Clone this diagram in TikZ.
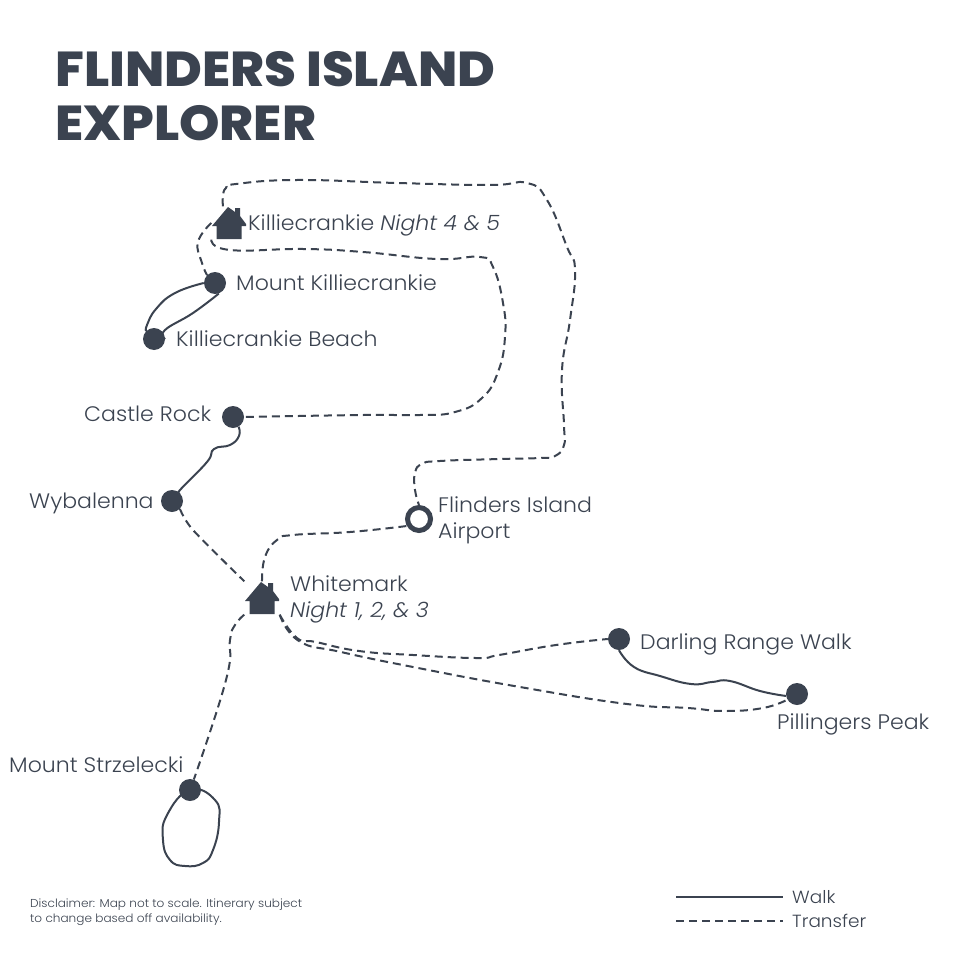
\documentclass[tikz,border=0pt]{standalone}
\usepackage{fontspec}
\setmainfont{Poppins}[UprightFont=* Light, ItalicFont=* Light Italic, BoldFont=* ExtraBold, FakeStretch=1.05]
\usetikzlibrary{positioning}

\definecolor{ink}{HTML}{3B4350}

\tikzset{
    stopdot/.style={circle, fill=ink, minimum size=22pt, inner sep=0pt},
    airportring/.style={circle, draw=ink, line width=5pt, fill=white, minimum size=23pt, inner sep=0pt},
    housemark/.style={minimum width=35pt, minimum height=33pt, inner sep=0pt, path picture={
        \fill[ink, shift={(path picture bounding box.center)}] (-12.5,16) -- (-12.5,3) -- (-17,3) -- (-1,-16) -- (6,-11) -- (6,-15)
            -- (11,-15) -- (11,-7) -- (17,1) -- (17,3) -- (12.5,3) -- (12.5,16) -- cycle;
    }},
    place/.style={text=ink, anchor=base west, inner sep=0pt, font=\fontsize{21}{26}\selectfont, align=left},
    walk/.style={draw=ink, line width=2pt},
    transfer/.style={draw=ink, line width=2pt, dash pattern=on 8pt off 5pt},
}

\begin{document}
\begin{tikzpicture}[x=1pt, y=-1pt]

    \useasboundingbox (0,0) rectangle (960,960);

    \node[text=ink, anchor=base west, inner sep=0pt, font=\fontsize{49}{54}\bfseries\selectfont, align=left] (title) at (55,141) {FLINDERS ISLAND\\EXPLORER};

    \node[housemark] (killie) at (229,223) {};
    \node[housemark] (whitemark) at (262,598) {};
    \node[stopdot] (mount) at (215,283) {};
    \node[stopdot] (beach) at (154,339) {};
    \node[stopdot] (castle) at (233,417) {};
    \node[stopdot] (wybalenna) at (172,501) {};
    \node[airportring] (airport) at (419,519) {};
    \node[stopdot] (darling) at (619,639) {};
    \node[stopdot] (peak) at (797,694) {};
    \node[stopdot] (strzelecki) at (190,790) {};

    \node[place] (killielabel) at (248,230) {Killiecrankie \textit{Night 4 \& 5}};
    \node[place] (mountlabel) at (236,290) {Mount Killiecrankie};
    \node[place] (beachlabel) at (176,346) {Killiecrankie Beach};
    \node[place] (castlelabel) at (84,421) {Castle Rock};
    \node[place] (wybalennalabel) at (29,508) {Wybalenna};
    \node[place] (airportlabel) at (438,538) {Flinders Island\\Airport};
    \node[place] (whitemarklabel) at (290,617.5) {Whitemark\\\textit{Night 1, 2, \& 3}};
    \node[place] (darlinglabel) at (640,649.5) {Darling Range Walk};
    \node[place] (peaklabel) at (777,729.5) {Pillingers Peak};
    \node[place] (strzeleckilabel) at (9,772) {Mount Strzelecki};

    \draw[transfer] plot[smooth, tension=0.8] coordinates {(killie.110) (223,196) (226,188) (236,184) (297,180) (397,183) (490,185) (527,183) (547,200) (567,247) (575,270) (570,320) (562,370) (564,425) (564,445) (555,456) (540,458) (500,459) (440,461) (422,464) (415,473) (415,490) (airport.north)};
    \draw[transfer] plot[smooth, tension=0.8] coordinates {(killie.south west) (230,250) (303,249) (363,252) (437,259) (480,257) (493,267) (503,303) (505,337) (498,372) (482,398) (455,412) (420,415) (363,415) (castle.east)};
    \draw[transfer] plot[smooth, tension=0.8] coordinates {(killie.west) (198,242) (202,263) (mount.north west)};
    \draw[transfer] plot[smooth, tension=0.5] coordinates {(wybalenna.south east) (193,530) (whitemark.north west)};
    \draw[transfer] plot[smooth, tension=0.8] coordinates {(whitemark.north) (265,557) (277,540) (293,535) (350,532) (airport.210)};
    \draw[transfer] plot[smooth, tension=0.8] coordinates {(whitemark.south west) (235,625) (230,640) (226,680) (strzelecki.70)};
    \draw[transfer] plot[smooth, tension=0.8] coordinates {(whitemark.south east) (297,638) (316,642) (359,651) (413,655) (477,658) (499,655) (556,645) (darling.west)};
    \draw[transfer] plot[smooth, tension=0.8] coordinates {(whitemark.south east) (299,641) (341,652) (413,667) (520,687) (627,704) (688,708) (724,711) (763,708) (peak.210)};

    \draw[walk] plot[smooth, tension=0.8] coordinates {(mount.west) (175,293) (156,309) (147,325) (beach.135)};
    \draw[walk] plot[smooth, tension=0.8] coordinates {(mount.290) (193,313) (165,330) (beach.east)};
    \draw[walk] plot[smooth, tension=0.8] coordinates {(castle.300) (239,436) (230,445) (214,449) (207,462) (180,490) (wybalenna.north east)};
    \draw[walk] plot[smooth, tension=0.8] coordinates {(darling.south) (634,667) (660,676) (691,684) (712,682) (730,681) (760,691) (peak.190)};
    \draw[walk] plot[smooth cycle, tension=0.8] coordinates {(strzelecki.center) (215,800) (219,822) (213,850) (203,863) (185,866) (170,860) (163,840) (167,815)};

    \node[text=ink, anchor=base west, inner sep=0pt, font=\fontsize{11.5}{15}\selectfont, align=left] (disclaimer) at (30,922) {Disclaimer: Map not to scale. Itinerary subject\\to change based off availability.};

    \node[place, font=\fontsize{17.6}{24}\selectfont] (walkkey) at (792,903) {Walk};
    \node[place, font=\fontsize{17.6}{24}\selectfont] (transferkey) at (792,927) {Transfer};
    \coordinate (walkstart) at (676,897);
    \coordinate (walkend) at (783,897);
    \coordinate (transferstart) at (676,921);
    \coordinate (transferend) at (783,921);
    \draw[walk] (walkstart) -- (walkend);
    \draw[transfer] (transferstart) -- (transferend);

\end{tikzpicture}
\end{document}
